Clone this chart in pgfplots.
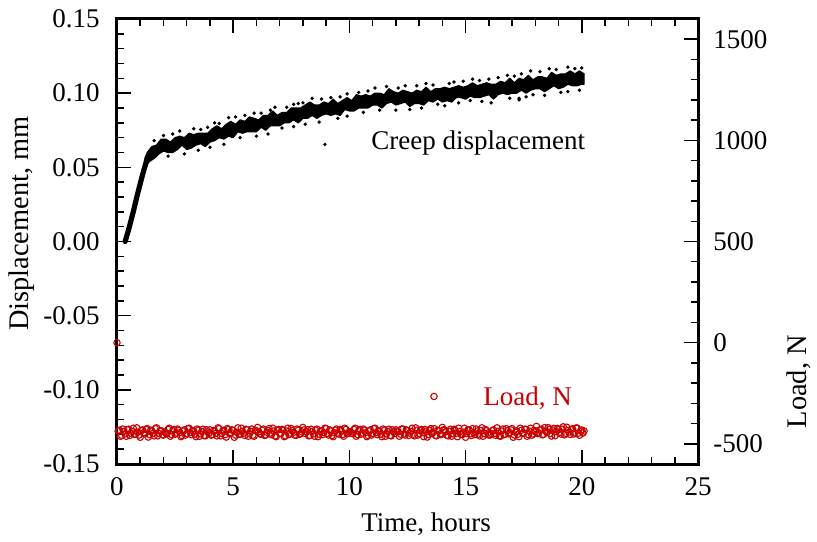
\documentclass[border=0pt]{standalone}
\usepackage{pgfplots}
\pgfplotsset{compat=1.18}
\usepackage{fontspec}
\setmainfont{Liberation Serif}
\definecolor{loadred}{RGB}{204,0,0}
\begin{document}
\fontsize{13.5bp}{16bp}\selectfont
\begin{tikzpicture}
\begin{axis}[
  scale only axis, width=290.5bp, height=222.5bp,
  xmin=0, xmax=25, ymin=-0.15, ymax=0.15,
  axis line style={line width=1.5bp},
  every tick/.style={black, line width=0.75bp},
  major tick length=7bp, minor tick length=3.5bp,
  tick align=inside,
  xtick={0,5,10,15,20,25}, xticklabels={0,5,10,15,20,25},
  minor x tick num=4,
  ytick={-0.15,-0.10,-0.05,0,0.05,0.10,0.15},
  yticklabels={-0.15,-0.10,-0.05,0.00,0.05,0.10,0.15},
  minor y tick num=4,
  xtick pos=both, ytick pos=left,
  xticklabel pos=bottom, yticklabel pos=left,
  yticklabel style={anchor=east, inner sep=0pt, xshift=-8.5bp},
  xticklabel style={anchor=north, inner sep=0pt, yshift=-6.5bp},
  xlabel={Time, hours},
  xlabel style={at={(axis description cs:0.532,-0.1528)}, anchor=base, inner sep=0pt},
  ylabel={Displacement, mm},
  ylabel style={at={(axis description cs:-0.1523,0.54)}, anchor=base, inner sep=0pt, font=\fontsize{14.2bp}{16bp}\selectfont},
  clip=false,
]
% initial loading ramp
\addplot[black, line width=2.6bp, line cap=round] table {
0.35 0.0000
0.50 0.0080
0.70 0.0200
0.90 0.0330
1.10 0.0450
1.30 0.0560
};
% creep displacement scatter band (upper edge, then lower edge back)
\addplot[fill=black, draw=black, line width=0.6bp, line join=round] table {
1.20 0.0560
1.30 0.0600
1.50 0.0640
1.70 0.0650
1.90 0.0690
2.10 0.0690
2.30 0.0670
2.50 0.0700
2.70 0.0710
2.90 0.0700
3.10 0.0730
3.30 0.0720
3.50 0.0730
3.70 0.0730
3.90 0.0730
4.10 0.0760
4.30 0.0780
4.50 0.0760
4.70 0.0790
4.90 0.0810
5.10 0.0790
5.30 0.0820
5.50 0.0810
5.70 0.0840
5.90 0.0830
6.10 0.0820
6.30 0.0850
6.50 0.0850
6.70 0.0880
6.90 0.0850
7.10 0.0870
7.30 0.0870
7.50 0.0900
7.70 0.0900
7.90 0.0900
8.10 0.0920
8.30 0.0940
8.50 0.0920
8.70 0.0920
8.90 0.0940
9.10 0.0930
9.30 0.0960
9.50 0.0930
9.70 0.0950
9.90 0.0970
10.10 0.0950
10.30 0.0990
10.50 0.0980
10.70 0.0990
10.90 0.0980
11.10 0.1000
11.30 0.1000
11.50 0.0990
11.70 0.1030
11.90 0.1010
12.10 0.1000
12.30 0.1020
12.50 0.1010
12.70 0.1000
12.90 0.1020
13.10 0.1010
13.30 0.1040
13.50 0.1010
13.70 0.1030
13.90 0.1030
14.10 0.1040
14.30 0.1030
14.50 0.1040
14.70 0.1050
14.90 0.1040
15.10 0.1050
15.30 0.1070
15.50 0.1050
15.70 0.1060
15.90 0.1070
16.10 0.1060
16.30 0.1060
16.50 0.1080
16.70 0.1070
16.90 0.1100
17.10 0.1070
17.30 0.1100
17.50 0.1090
17.70 0.1120
17.90 0.1090
18.10 0.1110
18.30 0.1110
18.50 0.1100
18.70 0.1140
18.90 0.1120
19.10 0.1130
19.30 0.1130
19.50 0.1150
19.70 0.1130
19.90 0.1150
20.10 0.1130
20.10 0.1060
20.00 0.1060
19.80 0.1050
19.60 0.1050
19.40 0.1060
19.20 0.1040
19.00 0.1030
18.80 0.1050
18.60 0.1030
18.40 0.1010
18.20 0.1030
18.00 0.1030
17.80 0.1020
17.60 0.1000
17.40 0.1020
17.20 0.1000
17.00 0.1000
16.80 0.0990
16.60 0.1000
16.40 0.0990
16.20 0.0960
16.00 0.0990
15.80 0.0980
15.60 0.0970
15.40 0.0970
15.20 0.0980
15.00 0.0960
14.80 0.0970
14.60 0.0970
14.40 0.0940
14.20 0.0950
14.00 0.0940
13.80 0.0960
13.60 0.0940
13.40 0.0950
13.20 0.0920
13.00 0.0930
12.80 0.0930
12.60 0.0910
12.40 0.0940
12.20 0.0930
12.00 0.0920
11.80 0.0940
11.60 0.0930
11.40 0.0900
11.20 0.0920
11.00 0.0920
10.80 0.0900
10.60 0.0900
10.40 0.0900
10.20 0.0880
10.00 0.0880
9.80 0.0890
9.60 0.0850
9.40 0.0860
9.20 0.0850
9.00 0.0860
8.80 0.0850
8.60 0.0830
8.40 0.0850
8.20 0.0830
8.00 0.0830
7.80 0.0800
7.60 0.0820
7.40 0.0800
7.20 0.0800
7.00 0.0780
6.80 0.0780
6.60 0.0780
6.40 0.0750
6.20 0.0770
6.00 0.0740
5.80 0.0740
5.60 0.0740
5.40 0.0730
5.20 0.0740
5.00 0.0700
4.80 0.0710
4.60 0.0690
4.40 0.0700
4.20 0.0680
4.00 0.0670
3.80 0.0640
3.60 0.0660
3.40 0.0650
3.20 0.0630
3.00 0.0620
2.80 0.0650
2.60 0.0620
2.40 0.0600
2.20 0.0600
2.00 0.0610
1.80 0.0590
1.60 0.0560
1.40 0.0540
1.25 0.0510
} -- cycle;
% scattered points of the displacement record around the band
\addplot[only marks, mark=*, mark size=0.65bp, black] table {
2.4 0.0725
3.3 0.0760
4.4 0.0795
5.1 0.0840
5.9 0.0865
6.8 0.0905
7.8 0.0930
8.4 0.0965
9.9 0.0995
11.1 0.1035
12.4 0.1050
13.3 0.1065
14.5 0.1075
15.3 0.1095
16.4 0.1105
17.4 0.1130
18.6 0.1165
19.4 0.1175
20.0 0.1170
2.9 0.0590
4.6 0.0655
7.1 0.0765
9.5 0.0830
12.6 0.0890
14.1 0.0915
15.7 0.0945
17.6 0.0975
19.1 0.1005
1.6 0.0680
2.0 0.0715
2.7 0.0745
3.6 0.0755
3.9 0.0770
4.2 0.0800
4.8 0.0835
5.5 0.0850
6.2 0.0865
6.6 0.0885
7.3 0.0905
7.6 0.0925
8.0 0.0935
8.8 0.0960
9.2 0.0970
9.6 0.0975
10.4 0.1005
10.8 0.1015
11.6 0.1045
12.1 0.1035
12.9 0.1050
13.6 0.1055
14.3 0.1065
14.9 0.1080
15.6 0.1085
16.0 0.1095
16.8 0.1120
17.1 0.1115
17.8 0.1150
18.2 0.1145
18.9 0.1160
19.7 0.1165
2.2 0.0575
3.5 0.0615
4.0 0.0635
5.3 0.0700
6.0 0.0710
6.5 0.0725
7.6 0.0775
8.1 0.0790
8.7 0.0805
9.9 0.0845
10.6 0.0870
11.3 0.0885
12.0 0.0885
13.1 0.0900
13.8 0.0925
14.7 0.0935
15.2 0.0950
16.1 0.0935
16.9 0.0965
17.3 0.0955
17.3 0.0965
17.9 0.0990
18.4 0.0985
19.4 0.1010
19.9 0.1020
};
% legend marker for creep displacement
\addplot[only marks, mark=*, mark size=0.6bp, black] coordinates {(8.95,0.0654)};
\node[anchor=base west, inner sep=0pt] at (axis cs:10.93,0.0620) {Creep displacement};
\end{axis}
\begin{axis}[
  scale only axis, width=290.5bp, height=222.5bp,
  xmin=0, xmax=25, ymin=-600, ymax=1600,
  axis x line=none,
  axis y line*=right,
  axis line style={line width=1.5bp},
  every tick/.style={black, line width=0.75bp},
  major tick length=7bp, minor tick length=3.5bp,
  tick align=inside,
  ytick={-500,0,500,1000,1500},
  yticklabels={-500,0,500,1000,1500},
  minor y tick num=4,
  yticklabel style={anchor=west, inner sep=0pt, xshift=7.5bp},
  ylabel={Load, N},
  ylabel style={at={(axis description cs:1.186,0.185)}, anchor=base, inner sep=0pt, font=\fontsize{14.2bp}{16bp}\selectfont},
  clip=false,
]
\addplot[only marks, mark=o, mark size=1.6bp, mark options={draw=loadred, line width=0.55bp}] table {
0.0 0
0.1 -433
0.2 -458
0.3 -438
0.4 -463
0.5 -428
0.6 -448
0.7 -423
0.8 -453
0.9 -443
1.0 -468
1.1 -431
1.2 -451
1.3 -425
1.4 -455
1.5 -437
1.6 -461
1.7 -421
1.8 -449
1.9 -435
2.0 -457
2.1 -447
2.2 -429
2.3 -463
2.4 -435
2.5 -453
2.6 -427
2.7 -445
2.8 -459
2.9 -431
3.0 -449
3.1 -423
3.2 -455
3.3 -439
3.4 -465
3.5 -433
3.6 -451
3.7 -428
3.8 -461
3.9 -441
4.0 -431
4.1 -455
4.2 -437
4.3 -461
4.4 -425
4.5 -449
4.6 -433
4.7 -467
4.8 -429
4.9 -445
5.0 -435
5.1 -457
5.2 -421
5.3 -453
5.4 -439
5.5 -459
5.6 -431
5.7 -451
5.8 -427
5.9 -463
6.0 -437
6.1 -441
6.2 -453
6.3 -427
6.4 -457
6.5 -435
6.6 -447
6.7 -423
6.8 -461
6.9 -433
7.0 -449
7.1 -429
7.2 -465
7.3 -437
7.4 -455
7.5 -425
7.6 -443
7.7 -459
7.8 -433
7.9 -451
8.0 -419
8.1 -449
8.2 -431
8.3 -459
8.4 -439
8.5 -463
8.6 -427
8.7 -453
8.8 -435
8.9 -445
9.0 -425
9.1 -457
9.2 -437
9.3 -465
9.4 -433
9.5 -447
9.6 -429
9.7 -455
9.8 -423
9.9 -451
10.0 -441
10.1 -447
10.2 -429
10.3 -463
10.4 -435
10.5 -453
10.6 -427
10.7 -445
10.8 -459
10.9 -431
11.0 -449
11.1 -423
11.2 -455
11.3 -439
11.4 -465
11.5 -433
11.6 -451
11.7 -428
11.8 -461
11.9 -441
12.0 -431
12.1 -441
12.2 -453
12.3 -427
12.4 -457
12.5 -435
12.6 -447
12.7 -423
12.8 -461
12.9 -433
13.0 -449
13.1 -429
13.2 -465
13.3 -437
13.4 -455
13.5 -425
13.6 -443
13.7 -459
13.8 -433
13.9 -451
14.0 -419
14.1 -433
14.2 -458
14.3 -438
14.4 -463
14.5 -428
14.6 -448
14.7 -423
14.8 -453
14.9 -443
15.0 -468
15.1 -431
15.2 -451
15.3 -425
15.4 -455
15.5 -437
15.6 -461
15.7 -421
15.8 -449
15.9 -435
16.0 -457
16.1 -449
16.2 -431
16.3 -459
16.4 -439
16.5 -463
16.6 -427
16.7 -453
16.8 -435
16.9 -445
17.0 -425
17.1 -457
17.2 -437
17.3 -465
17.4 -433
17.5 -447
17.6 -429
17.7 -455
17.8 -423
17.9 -451
18.0 -441
18.1 -450
18.2 -432
18.3 -456
18.4 -420
18.5 -444
18.6 -428
18.7 -462
18.8 -424
18.9 -440
19.0 -430
19.1 -452
19.2 -416
19.3 -448
19.4 -434
19.5 -454
19.6 -426
19.7 -446
19.8 -422
19.9 -458
20.0 -432
20.1 -437
};
\addplot[only marks, mark=o, mark size=1.6bp, mark options={draw=loadred, line width=0.55bp}] table {
0.05 -437
0.15 -463
0.25 -427
0.35 -451
0.45 -431
0.55 -459
0.65 -439
0.75 -453
0.85 -421
0.95 -457
1.05 -435
1.15 -445
1.25 -429
1.35 -467
1.45 -433
1.55 -449
1.65 -425
1.75 -461
1.85 -437
1.95 -455
2.05 -441
2.15 -451
2.25 -423
2.35 -455
2.45 -429
2.55 -447
2.65 -433
2.75 -465
2.85 -437
2.95 -457
3.05 -425
3.15 -445
3.25 -435
3.35 -453
3.45 -427
3.55 -463
3.65 -439
3.75 -459
3.85 -431
3.95 -449
4.05 -457
4.15 -435
4.25 -449
4.35 -421
4.45 -461
4.55 -437
4.65 -455
4.75 -425
4.85 -451
4.95 -431
5.05 -468
5.15 -443
5.25 -453
5.35 -423
5.45 -448
5.55 -428
5.65 -463
5.75 -438
5.85 -458
5.95 -433
6.05 -419
6.15 -451
6.25 -433
6.35 -459
6.45 -443
6.55 -425
6.65 -455
6.75 -437
6.85 -465
6.95 -429
7.05 -449
7.15 -433
7.25 -461
7.35 -423
7.45 -447
7.55 -435
7.65 -457
7.75 -427
7.85 -453
7.95 -441
8.05 -431
8.15 -441
8.25 -461
8.35 -428
8.45 -451
8.55 -433
8.65 -465
8.75 -439
8.85 -455
8.95 -423
9.05 -449
9.15 -431
9.25 -459
9.35 -445
9.45 -427
9.55 -453
9.65 -435
9.75 -463
9.85 -429
9.95 -447
10.05 -441
10.15 -451
10.25 -423
10.35 -455
10.45 -429
10.55 -447
10.65 -433
10.75 -465
10.85 -437
10.95 -457
11.05 -425
11.15 -445
11.25 -435
11.35 -453
11.45 -427
11.55 -463
11.65 -439
11.75 -459
11.85 -431
11.95 -449
12.05 -437
12.15 -463
12.25 -427
12.35 -451
12.45 -431
12.55 -459
12.65 -439
12.75 -453
12.85 -421
12.95 -457
13.05 -435
13.15 -445
13.25 -429
13.35 -467
13.45 -433
13.55 -449
13.65 -425
13.75 -461
13.85 -437
13.95 -455
14.05 -431
14.15 -441
14.25 -461
14.35 -428
14.45 -451
14.55 -433
14.65 -465
14.75 -439
14.85 -455
14.95 -423
15.05 -449
15.15 -431
15.25 -459
15.35 -445
15.45 -427
15.55 -453
15.65 -435
15.75 -463
15.85 -429
15.95 -447
16.05 -457
16.15 -435
16.25 -449
16.35 -421
16.45 -461
16.55 -437
16.65 -455
16.75 -425
16.85 -451
16.95 -431
17.05 -468
17.15 -443
17.25 -453
17.35 -423
17.45 -448
17.55 -428
17.65 -463
17.75 -438
17.85 -458
17.95 -433
18.05 -414
18.15 -446
18.25 -428
18.35 -454
18.45 -438
18.55 -420
18.65 -450
18.75 -432
18.85 -460
18.95 -424
19.05 -444
19.15 -428
19.25 -456
19.35 -418
19.45 -442
19.55 -430
19.65 -452
19.75 -422
19.85 -448
19.95 -436
20.05 -447
};
% legend marker for load
\addplot[only marks, mark=o, mark size=1.6bp, mark options={draw=loadred, line width=0.55bp}] coordinates {(13.64,-266)};
\node[anchor=base west, inner sep=0pt, text=loadred] at (axis cs:15.75,-310) {Load, N};
\end{axis}
\pgfresetboundingbox
\path[use as bounding box] ([xshift=-58.5bp,yshift=-39bp]current axis.south west) rectangle ([xshift=59.5bp,yshift=9.5bp]current axis.north east);
\end{tikzpicture}
\end{document}
